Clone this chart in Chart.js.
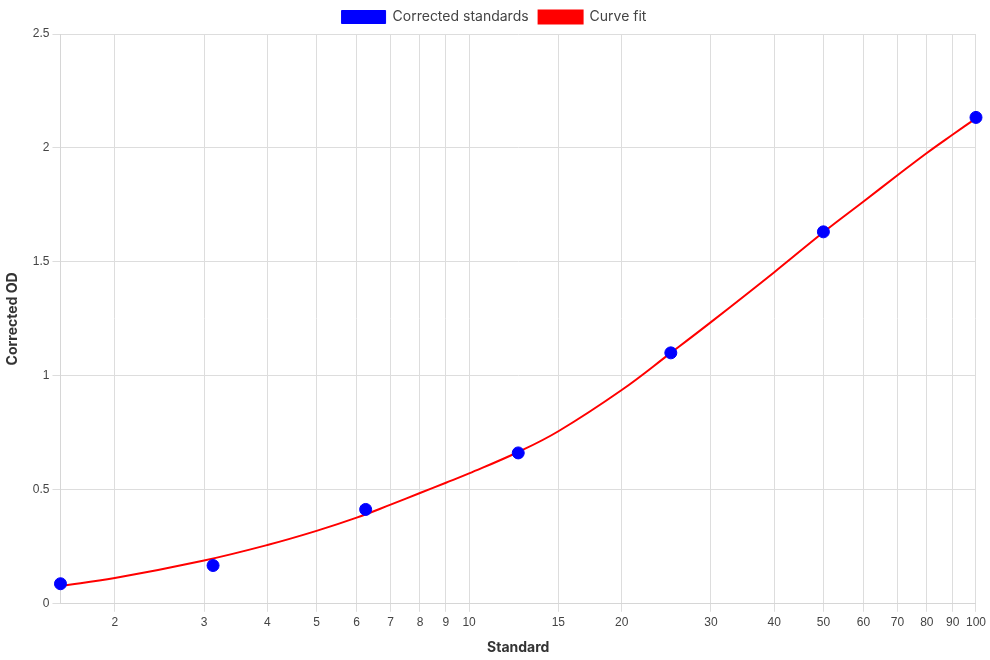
<!DOCTYPE html>
<html>
<head>
<meta charset="utf-8">
<script src="https://cdn.jsdelivr.net/npm/chart.js@4/dist/chart.umd.min.js"></script>
<style>
  html, body { margin: 0; padding: 0; background: #fff; }
  #wrap { width: 990px; height: 660px; }
</style>
</head>
<body>
<div id="wrap"><canvas id="c" width="990" height="660"></canvas></div>
<script>
// Standards (x) and corrected OD (y)
const standards = [1.5625, 3.125, 6.25, 12.5, 25, 50, 100];
const correctedOD = [0.088, 0.168, 0.414, 0.662, 1.101, 1.632, 2.134];

// Curve fit
const fitX = [1.5625, 2, 3, 4, 5, 6, 7, 8, 9, 10, 12.5, 15, 20, 25, 30, 40, 50, 60, 70, 80, 90, 100];
const fitY = [0.078, 0.113, 0.190, 0.258, 0.320, 0.378, 0.435, 0.486, 0.531, 0.572, 0.666, 0.757, 0.938, 1.101, 1.236, 1.455, 1.630, 1.765, 1.880, 1.978, 2.059, 2.130];

// Labelled x ticks
const xTickLabels = [2, 3, 4, 5, 6, 7, 8, 9, 10, 15, 20, 30, 40, 50, 60, 70, 80, 90, 100];
const yTicks = [0, 0.5, 1, 1.5, 2, 2.5];

const pts = standards.map((x, i) => ({ x, y: correctedOD[i] }));
const fit = fitX.map((x, i) => ({ x, y: fitY[i] }));

const tickFont = { family: "'Liberation Sans', Arial, sans-serif", size: 12 };
const titleFont = { family: "Inter, 'Open Sans', sans-serif", size: 14, weight: 'bold' };

new Chart(document.getElementById('c'), {
  type: 'scatter',
  data: {
    datasets: [
      {
        label: 'Corrected standards',
        data: pts,
        backgroundColor: '#0000ff',
        borderColor: '#0000ff',
        borderWidth: 1,
        pointRadius: 6,
        pointHoverRadius: 6
      },
      {
        label: 'Curve fit',
        data: fit,
        showLine: true,
        backgroundColor: '#ff0000',
        borderColor: '#ff0000',
        borderWidth: 2,
        pointRadius: 0,
        tension: 0.4,
        fill: false
      }
    ]
  },
  options: {
    responsive: false,
    animation: false,
    devicePixelRatio: 1,
    layout: { padding: { right: 2 } },
    plugins: {
      legend: {
        position: 'top',
        labels: {
          boxWidth: 44,
          boxHeight: 13,
          color: '#444',
          font: { family: "Inter, 'Open Sans', sans-serif", size: 14 }
        }
      },
      tooltip: { enabled: false }
    },
    scales: {
      x: {
        type: 'logarithmic',
        bounds: 'data',
        grid: { color: '#dddddd' },
        border: { color: '#d6d6d6' },
        ticks: {
          autoSkip: false,
          maxRotation: 0,
          padding: 4,
          color: '#444',
          font: tickFont,
          callback: (v) => xTickLabels.includes(v) ? String(v) : ''
        },
        title: {
          display: true,
          text: 'Standard',
          color: '#333',
          font: titleFont,
          padding: { top: 5, bottom: 4 }
        }
      },
      y: {
        type: 'linear',
        min: yTicks[0],
        max: yTicks[yTicks.length - 1],
        grid: { color: '#dddddd' },
        border: { color: '#d6d6d6' },
        ticks: {
          stepSize: 0.5,
          padding: 3,
          color: '#444',
          font: tickFont,
          callback: (v) => String(v)
        },
        title: {
          display: true,
          text: 'Corrected OD',
          color: '#333',
          font: titleFont,
          padding: { top: 4, bottom: 9 }
        }
      }
    }
  }
});
</script>
</body>
</html>
